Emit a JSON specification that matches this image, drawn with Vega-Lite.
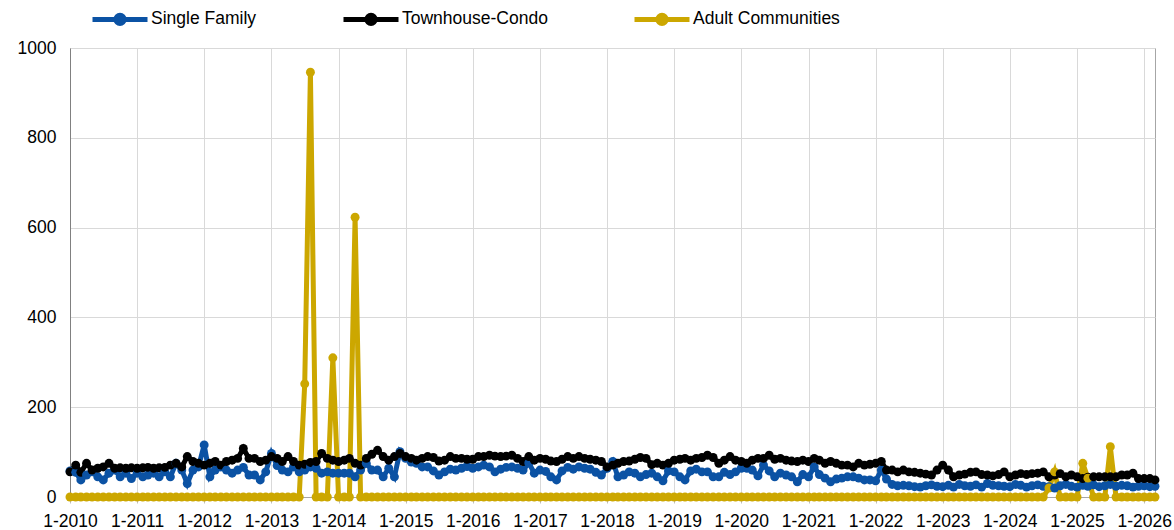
{
"$schema": "https://vega.github.io/schema/vega-lite/v6.json",
"width": 1085, "height": 449,
"autosize": "none",
"padding": {"left": 70, "top": 48, "right": 19, "bottom": 33},
"background": "white",
"config": {"font": "Liberation Sans", "view": {"stroke": "#a6a6a6", "strokeWidth": 1}},
"data": {"values": [
{"d":"2010-01-01","Single Family":58,"Townhouse-Condo":56,"Adult Communities":0},
{"d":"2010-02-01","Single Family":55,"Townhouse-Condo":71,"Adult Communities":0},
{"d":"2010-03-01","Single Family":38,"Townhouse-Condo":55,"Adult Communities":0},
{"d":"2010-04-01","Single Family":49,"Townhouse-Condo":75,"Adult Communities":0},
{"d":"2010-05-01","Single Family":56,"Townhouse-Condo":60,"Adult Communities":0},
{"d":"2010-06-01","Single Family":45,"Townhouse-Condo":64,"Adult Communities":0},
{"d":"2010-07-01","Single Family":38,"Townhouse-Condo":67,"Adult Communities":0},
{"d":"2010-08-01","Single Family":53,"Townhouse-Condo":75,"Adult Communities":0},
{"d":"2010-09-01","Single Family":60,"Townhouse-Condo":64,"Adult Communities":0},
{"d":"2010-10-01","Single Family":45,"Townhouse-Condo":65,"Adult Communities":0},
{"d":"2010-11-01","Single Family":53,"Townhouse-Condo":64,"Adult Communities":0},
{"d":"2010-12-01","Single Family":41,"Townhouse-Condo":65,"Adult Communities":0},
{"d":"2011-01-01","Single Family":53,"Townhouse-Condo":64,"Adult Communities":0},
{"d":"2011-02-01","Single Family":45,"Townhouse-Condo":65,"Adult Communities":0},
{"d":"2011-03-01","Single Family":49,"Townhouse-Condo":66,"Adult Communities":0},
{"d":"2011-04-01","Single Family":53,"Townhouse-Condo":64,"Adult Communities":0},
{"d":"2011-05-01","Single Family":45,"Townhouse-Condo":65,"Adult Communities":0},
{"d":"2011-06-01","Single Family":56,"Townhouse-Condo":66,"Adult Communities":0},
{"d":"2011-07-01","Single Family":45,"Townhouse-Condo":71,"Adult Communities":0},
{"d":"2011-08-01","Single Family":75,"Townhouse-Condo":75,"Adult Communities":0},
{"d":"2011-09-01","Single Family":60,"Townhouse-Condo":67,"Adult Communities":0},
{"d":"2011-10-01","Single Family":30,"Townhouse-Condo":90,"Adult Communities":0},
{"d":"2011-11-01","Single Family":60,"Townhouse-Condo":79,"Adult Communities":0},
{"d":"2011-12-01","Single Family":67,"Townhouse-Condo":75,"Adult Communities":0},
{"d":"2012-01-01","Single Family":116,"Townhouse-Condo":71,"Adult Communities":0},
{"d":"2012-02-01","Single Family":45,"Townhouse-Condo":75,"Adult Communities":0},
{"d":"2012-03-01","Single Family":60,"Townhouse-Condo":79,"Adult Communities":0},
{"d":"2012-04-01","Single Family":67,"Townhouse-Condo":71,"Adult Communities":0},
{"d":"2012-05-01","Single Family":60,"Townhouse-Condo":79,"Adult Communities":0},
{"d":"2012-06-01","Single Family":53,"Townhouse-Condo":82,"Adult Communities":0},
{"d":"2012-07-01","Single Family":60,"Townhouse-Condo":86,"Adult Communities":0},
{"d":"2012-08-01","Single Family":66,"Townhouse-Condo":108,"Adult Communities":0},
{"d":"2012-09-01","Single Family":49,"Townhouse-Condo":86,"Adult Communities":0},
{"d":"2012-10-01","Single Family":49,"Townhouse-Condo":86,"Adult Communities":0},
{"d":"2012-11-01","Single Family":38,"Townhouse-Condo":79,"Adult Communities":0},
{"d":"2012-12-01","Single Family":56,"Townhouse-Condo":82,"Adult Communities":0},
{"d":"2013-01-01","Single Family":97,"Townhouse-Condo":90,"Adult Communities":0},
{"d":"2013-02-01","Single Family":70,"Townhouse-Condo":86,"Adult Communities":0},
{"d":"2013-03-01","Single Family":60,"Townhouse-Condo":79,"Adult Communities":0},
{"d":"2013-04-01","Single Family":56,"Townhouse-Condo":90,"Adult Communities":0},
{"d":"2013-05-01","Single Family":67,"Townhouse-Condo":79,"Adult Communities":0},
{"d":"2013-06-01","Single Family":56,"Townhouse-Condo":71,"Adult Communities":0},
{"d":"2013-07-01","Single Family":60,"Townhouse-Condo":73,"Adult Communities":252},
{"d":"2013-08-01","Single Family":67,"Townhouse-Condo":77,"Adult Communities":946},
{"d":"2013-09-01","Single Family":64,"Townhouse-Condo":79,"Adult Communities":0},
{"d":"2013-10-01","Single Family":53,"Townhouse-Condo":97,"Adult Communities":0},
{"d":"2013-11-01","Single Family":56,"Townhouse-Condo":86,"Adult Communities":0},
{"d":"2013-12-01","Single Family":53,"Townhouse-Condo":82,"Adult Communities":310},
{"d":"2014-01-01","Single Family":53,"Townhouse-Condo":79,"Adult Communities":0},
{"d":"2014-02-01","Single Family":53,"Townhouse-Condo":82,"Adult Communities":0},
{"d":"2014-03-01","Single Family":53,"Townhouse-Condo":86,"Adult Communities":0},
{"d":"2014-04-01","Single Family":45,"Townhouse-Condo":75,"Adult Communities":623},
{"d":"2014-05-01","Single Family":60,"Townhouse-Condo":71,"Adult Communities":0},
{"d":"2014-06-01","Single Family":75,"Townhouse-Condo":86,"Adult Communities":0},
{"d":"2014-07-01","Single Family":60,"Townhouse-Condo":95,"Adult Communities":0},
{"d":"2014-08-01","Single Family":60,"Townhouse-Condo":104,"Adult Communities":0},
{"d":"2014-09-01","Single Family":45,"Townhouse-Condo":90,"Adult Communities":0},
{"d":"2014-10-01","Single Family":64,"Townhouse-Condo":82,"Adult Communities":0},
{"d":"2014-11-01","Single Family":45,"Townhouse-Condo":90,"Adult Communities":0},
{"d":"2014-12-01","Single Family":101,"Townhouse-Condo":97,"Adult Communities":0},
{"d":"2015-01-01","Single Family":86,"Townhouse-Condo":90,"Adult Communities":0},
{"d":"2015-02-01","Single Family":78,"Townhouse-Condo":86,"Adult Communities":0},
{"d":"2015-03-01","Single Family":75,"Townhouse-Condo":82,"Adult Communities":0},
{"d":"2015-04-01","Single Family":67,"Townhouse-Condo":86,"Adult Communities":0},
{"d":"2015-05-01","Single Family":67,"Townhouse-Condo":90,"Adult Communities":0},
{"d":"2015-06-01","Single Family":58,"Townhouse-Condo":88,"Adult Communities":0},
{"d":"2015-07-01","Single Family":49,"Townhouse-Condo":80,"Adult Communities":0},
{"d":"2015-08-01","Single Family":56,"Townhouse-Condo":82,"Adult Communities":0},
{"d":"2015-09-01","Single Family":62,"Townhouse-Condo":90,"Adult Communities":0},
{"d":"2015-10-01","Single Family":60,"Townhouse-Condo":86,"Adult Communities":0},
{"d":"2015-11-01","Single Family":64,"Townhouse-Condo":86,"Adult Communities":0},
{"d":"2015-12-01","Single Family":68,"Townhouse-Condo":84,"Adult Communities":0},
{"d":"2016-01-01","Single Family":64,"Townhouse-Condo":84,"Adult Communities":0},
{"d":"2016-02-01","Single Family":67,"Townhouse-Condo":90,"Adult Communities":0},
{"d":"2016-03-01","Single Family":71,"Townhouse-Condo":90,"Adult Communities":0},
{"d":"2016-04-01","Single Family":67,"Townhouse-Condo":93,"Adult Communities":0},
{"d":"2016-05-01","Single Family":56,"Townhouse-Condo":91,"Adult Communities":0},
{"d":"2016-06-01","Single Family":62,"Townhouse-Condo":90,"Adult Communities":0},
{"d":"2016-07-01","Single Family":66,"Townhouse-Condo":91,"Adult Communities":0},
{"d":"2016-08-01","Single Family":67,"Townhouse-Condo":93,"Adult Communities":0},
{"d":"2016-09-01","Single Family":64,"Townhouse-Condo":86,"Adult Communities":0},
{"d":"2016-10-01","Single Family":60,"Townhouse-Condo":79,"Adult Communities":0},
{"d":"2016-11-01","Single Family":76,"Townhouse-Condo":90,"Adult Communities":0},
{"d":"2016-12-01","Single Family":53,"Townhouse-Condo":82,"Adult Communities":0},
{"d":"2017-01-01","Single Family":60,"Townhouse-Condo":86,"Adult Communities":0},
{"d":"2017-02-01","Single Family":57,"Townhouse-Condo":84,"Adult Communities":0},
{"d":"2017-03-01","Single Family":45,"Townhouse-Condo":80,"Adult Communities":0},
{"d":"2017-04-01","Single Family":38,"Townhouse-Condo":79,"Adult Communities":0},
{"d":"2017-05-01","Single Family":58,"Townhouse-Condo":84,"Adult Communities":0},
{"d":"2017-06-01","Single Family":66,"Townhouse-Condo":90,"Adult Communities":0},
{"d":"2017-07-01","Single Family":62,"Townhouse-Condo":86,"Adult Communities":0},
{"d":"2017-08-01","Single Family":67,"Townhouse-Condo":90,"Adult Communities":0},
{"d":"2017-09-01","Single Family":64,"Townhouse-Condo":86,"Adult Communities":0},
{"d":"2017-10-01","Single Family":62,"Townhouse-Condo":84,"Adult Communities":0},
{"d":"2017-11-01","Single Family":55,"Townhouse-Condo":82,"Adult Communities":0},
{"d":"2017-12-01","Single Family":49,"Townhouse-Condo":79,"Adult Communities":0},
{"d":"2018-01-01","Single Family":64,"Townhouse-Condo":67,"Adult Communities":0},
{"d":"2018-02-01","Single Family":79,"Townhouse-Condo":71,"Adult Communities":0},
{"d":"2018-03-01","Single Family":45,"Townhouse-Condo":75,"Adult Communities":0},
{"d":"2018-04-01","Single Family":49,"Townhouse-Condo":79,"Adult Communities":0},
{"d":"2018-05-01","Single Family":56,"Townhouse-Condo":80,"Adult Communities":0},
{"d":"2018-06-01","Single Family":53,"Townhouse-Condo":84,"Adult Communities":0},
{"d":"2018-07-01","Single Family":45,"Townhouse-Condo":88,"Adult Communities":0},
{"d":"2018-08-01","Single Family":50,"Townhouse-Condo":86,"Adult Communities":0},
{"d":"2018-09-01","Single Family":53,"Townhouse-Condo":72,"Adult Communities":0},
{"d":"2018-10-01","Single Family":45,"Townhouse-Condo":75,"Adult Communities":0},
{"d":"2018-11-01","Single Family":36,"Townhouse-Condo":71,"Adult Communities":0},
{"d":"2018-12-01","Single Family":58,"Townhouse-Condo":75,"Adult Communities":0},
{"d":"2019-01-01","Single Family":56,"Townhouse-Condo":82,"Adult Communities":0},
{"d":"2019-02-01","Single Family":45,"Townhouse-Condo":84,"Adult Communities":0},
{"d":"2019-03-01","Single Family":38,"Townhouse-Condo":86,"Adult Communities":0},
{"d":"2019-04-01","Single Family":58,"Townhouse-Condo":82,"Adult Communities":0},
{"d":"2019-05-01","Single Family":62,"Townhouse-Condo":86,"Adult Communities":0},
{"d":"2019-06-01","Single Family":56,"Townhouse-Condo":88,"Adult Communities":0},
{"d":"2019-07-01","Single Family":56,"Townhouse-Condo":93,"Adult Communities":0},
{"d":"2019-08-01","Single Family":45,"Townhouse-Condo":88,"Adult Communities":0},
{"d":"2019-09-01","Single Family":45,"Townhouse-Condo":75,"Adult Communities":0},
{"d":"2019-10-01","Single Family":55,"Townhouse-Condo":82,"Adult Communities":0},
{"d":"2019-11-01","Single Family":50,"Townhouse-Condo":90,"Adult Communities":0},
{"d":"2019-12-01","Single Family":56,"Townhouse-Condo":82,"Adult Communities":0},
{"d":"2020-01-01","Single Family":64,"Townhouse-Condo":79,"Adult Communities":0},
{"d":"2020-02-01","Single Family":64,"Townhouse-Condo":75,"Adult Communities":0},
{"d":"2020-03-01","Single Family":60,"Townhouse-Condo":82,"Adult Communities":0},
{"d":"2020-04-01","Single Family":47,"Townhouse-Condo":86,"Adult Communities":0},
{"d":"2020-05-01","Single Family":71,"Townhouse-Condo":86,"Adult Communities":0},
{"d":"2020-06-01","Single Family":58,"Townhouse-Condo":93,"Adult Communities":0},
{"d":"2020-07-01","Single Family":45,"Townhouse-Condo":84,"Adult Communities":0},
{"d":"2020-08-01","Single Family":53,"Townhouse-Condo":86,"Adult Communities":0},
{"d":"2020-09-01","Single Family":49,"Townhouse-Condo":82,"Adult Communities":0},
{"d":"2020-10-01","Single Family":45,"Townhouse-Condo":80,"Adult Communities":0},
{"d":"2020-11-01","Single Family":34,"Townhouse-Condo":79,"Adult Communities":0},
{"d":"2020-12-01","Single Family":50,"Townhouse-Condo":82,"Adult Communities":0},
{"d":"2021-01-01","Single Family":45,"Townhouse-Condo":79,"Adult Communities":0},
{"d":"2021-02-01","Single Family":67,"Townhouse-Condo":86,"Adult Communities":0},
{"d":"2021-03-01","Single Family":50,"Townhouse-Condo":82,"Adult Communities":0},
{"d":"2021-04-01","Single Family":42,"Townhouse-Condo":75,"Adult Communities":0},
{"d":"2021-05-01","Single Family":34,"Townhouse-Condo":79,"Adult Communities":0},
{"d":"2021-06-01","Single Family":40,"Townhouse-Condo":75,"Adult Communities":0},
{"d":"2021-07-01","Single Family":42,"Townhouse-Condo":71,"Adult Communities":0},
{"d":"2021-08-01","Single Family":45,"Townhouse-Condo":71,"Adult Communities":0},
{"d":"2021-09-01","Single Family":45,"Townhouse-Condo":67,"Adult Communities":0},
{"d":"2021-10-01","Single Family":42,"Townhouse-Condo":75,"Adult Communities":0},
{"d":"2021-11-01","Single Family":38,"Townhouse-Condo":71,"Adult Communities":0},
{"d":"2021-12-01","Single Family":38,"Townhouse-Condo":73,"Adult Communities":0},
{"d":"2022-01-01","Single Family":36,"Townhouse-Condo":75,"Adult Communities":0},
{"d":"2022-02-01","Single Family":60,"Townhouse-Condo":79,"Adult Communities":0},
{"d":"2022-03-01","Single Family":40,"Townhouse-Condo":60,"Adult Communities":0},
{"d":"2022-04-01","Single Family":28,"Townhouse-Condo":60,"Adult Communities":0},
{"d":"2022-05-01","Single Family":25,"Townhouse-Condo":56,"Adult Communities":0},
{"d":"2022-06-01","Single Family":26,"Townhouse-Condo":60,"Adult Communities":0},
{"d":"2022-07-01","Single Family":25,"Townhouse-Condo":56,"Adult Communities":0},
{"d":"2022-08-01","Single Family":23,"Townhouse-Condo":55,"Adult Communities":0},
{"d":"2022-09-01","Single Family":22,"Townhouse-Condo":53,"Adult Communities":0},
{"d":"2022-10-01","Single Family":25,"Townhouse-Condo":51,"Adult Communities":0},
{"d":"2022-11-01","Single Family":27,"Townhouse-Condo":49,"Adult Communities":0},
{"d":"2022-12-01","Single Family":24,"Townhouse-Condo":60,"Adult Communities":0},
{"d":"2023-01-01","Single Family":23,"Townhouse-Condo":71,"Adult Communities":0},
{"d":"2023-02-01","Single Family":26,"Townhouse-Condo":60,"Adult Communities":0},
{"d":"2023-03-01","Single Family":22,"Townhouse-Condo":45,"Adult Communities":0},
{"d":"2023-04-01","Single Family":28,"Townhouse-Condo":49,"Adult Communities":0},
{"d":"2023-05-01","Single Family":25,"Townhouse-Condo":51,"Adult Communities":0},
{"d":"2023-06-01","Single Family":24,"Townhouse-Condo":55,"Adult Communities":0},
{"d":"2023-07-01","Single Family":27,"Townhouse-Condo":56,"Adult Communities":0},
{"d":"2023-08-01","Single Family":22,"Townhouse-Condo":50,"Adult Communities":0},
{"d":"2023-09-01","Single Family":30,"Townhouse-Condo":49,"Adult Communities":0},
{"d":"2023-10-01","Single Family":26,"Townhouse-Condo":47,"Adult Communities":0},
{"d":"2023-11-01","Single Family":25,"Townhouse-Condo":50,"Adult Communities":0},
{"d":"2023-12-01","Single Family":24,"Townhouse-Condo":56,"Adult Communities":0},
{"d":"2024-01-01","Single Family":23,"Townhouse-Condo":45,"Adult Communities":0},
{"d":"2024-02-01","Single Family":28,"Townhouse-Condo":49,"Adult Communities":0},
{"d":"2024-03-01","Single Family":26,"Townhouse-Condo":52,"Adult Communities":0},
{"d":"2024-04-01","Single Family":22,"Townhouse-Condo":50,"Adult Communities":0},
{"d":"2024-05-01","Single Family":25,"Townhouse-Condo":52,"Adult Communities":0},
{"d":"2024-06-01","Single Family":27,"Townhouse-Condo":53,"Adult Communities":0},
{"d":"2024-07-01","Single Family":24,"Townhouse-Condo":56,"Adult Communities":0},
{"d":"2024-08-01","Single Family":23,"Townhouse-Condo":45,"Adult Communities":20},
{"d":"2024-09-01","Single Family":20,"Townhouse-Condo":49,"Adult Communities":56},
{"d":"2024-10-01","Single Family":25,"Townhouse-Condo":52,"Adult Communities":0},
{"d":"2024-11-01","Single Family":28,"Townhouse-Condo":45,"Adult Communities":0},
{"d":"2024-12-01","Single Family":24,"Townhouse-Condo":49,"Adult Communities":0},
{"d":"2025-01-01","Single Family":22,"Townhouse-Condo":45,"Adult Communities":0},
{"d":"2025-02-01","Single Family":26,"Townhouse-Condo":41,"Adult Communities":75},
{"d":"2025-03-01","Single Family":24,"Townhouse-Condo":44,"Adult Communities":42},
{"d":"2025-04-01","Single Family":27,"Townhouse-Condo":45,"Adult Communities":0},
{"d":"2025-05-01","Single Family":23,"Townhouse-Condo":45,"Adult Communities":0},
{"d":"2025-06-01","Single Family":25,"Townhouse-Condo":45,"Adult Communities":0},
{"d":"2025-07-01","Single Family":28,"Townhouse-Condo":45,"Adult Communities":112},
{"d":"2025-08-01","Single Family":24,"Townhouse-Condo":45,"Adult Communities":0},
{"d":"2025-09-01","Single Family":26,"Townhouse-Condo":49,"Adult Communities":0},
{"d":"2025-10-01","Single Family":25,"Townhouse-Condo":49,"Adult Communities":0},
{"d":"2025-11-01","Single Family":22,"Townhouse-Condo":53,"Adult Communities":0},
{"d":"2025-12-01","Single Family":24,"Townhouse-Condo":41,"Adult Communities":0},
{"d":"2026-01-01","Single Family":25,"Townhouse-Condo":41,"Adult Communities":0},
{"d":"2026-02-01","Single Family":23,"Townhouse-Condo":41,"Adult Communities":0},
{"d":"2026-03-01","Single Family":24,"Townhouse-Condo":38,"Adult Communities":0}
]},
"transform": [{"fold": ["Single Family", "Townhouse-Condo", "Adult Communities"], "as": ["series", "value"]}],
"mark": {"type": "line", "strokeWidth": 5, "point": {"filled": true, "size": 80}},
"encoding": {
  "x": {"field": "d", "type": "temporal",
        "scale": {"type": "utc", "domain": [{"year": 2010, "month": 1, "date": 1, "utc": true}, {"year": 2026, "month": 3, "date": 1, "utc": true}]},
        "axis": {"title": null, "labelExpr": "utcFormat(datum.value, '%-m-%Y')", "tickCount": {"interval": "year", "step": 1},
                 "grid": true, "gridColor": "#d9d9d9", "domainColor": "#a6a6a6", "tickColor": "#bfbfbf", "tickSize": 6,
                 "labelFontSize": 17.5, "labelColor": "#000000", "labelPadding": 9, "labelOverlap": false, "labelFlush": false, "labelBound": false}},
  "y": {"field": "value", "type": "quantitative",
        "scale": {"domain": [0, 1000], "nice": false},
        "axis": {"title": null, "values": [0, 200, 400, 600, 800, 1000], "format": "d", "grid": true, "gridColor": "#d9d9d9", "domainColor": "#808080",
                 "ticks": false, "labelFontSize": 17.5, "labelColor": "#000000", "labelPadding": 14}},
  "color": {"field": "series", "type": "nominal",
            "scale": {"domain": ["Single Family", "Townhouse-Condo", "Adult Communities"], "range": ["#0b52a4", "#000000", "#cca700"]},
            "legend": {"title": null, "orient": "none", "legendX": 20, "legendY": -59, "direction": "horizontal",
                       "symbolType": "M-1,0H1M-0.15,0A0.15,0.15,0,1,1,0.15,0A0.15,0.15,0,1,1,-0.15,0Z",
                       "symbolSize": 3025, "symbolStrokeWidth": 5, "labelFontSize": 17.5, "labelColor": "#000000",
                       "labelOffset": 1, "columnPadding": 76}}
}
}
